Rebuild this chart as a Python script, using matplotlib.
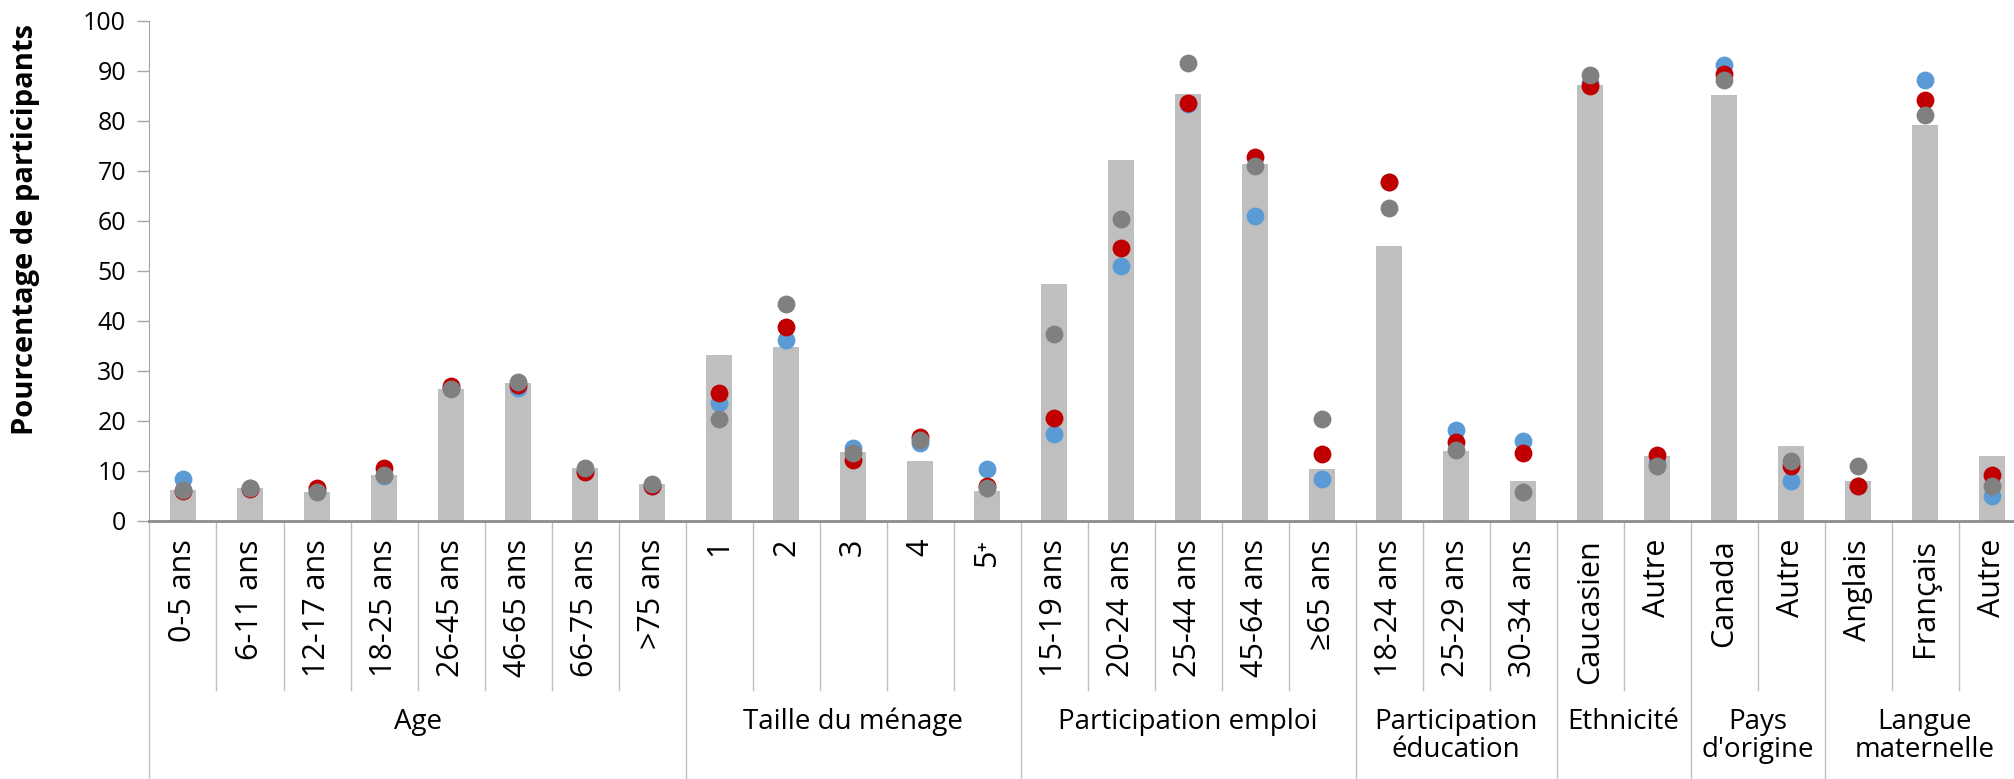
import matplotlib.pyplot as plt
from matplotlib.lines import Line2D

plt.rcParams['font.family'] = ['Open Sans', 'DejaVu Sans']

# categories, grouped
groups = ['Age', 'Taille du ménage', 'Participation emploi', 'Participation\néducation',
          'Ethnicité', 'Pays\nd\'origine', 'Langue\nmaternelle']
group_sizes = [8, 5, 5, 3, 2, 2, 3]
labels = ['0-5 ans', '6-11 ans', '12-17 ans', '18-25 ans', '26-45 ans', '46-65 ans', '66-75 ans', '>75 ans',
          '1', '2', '3', '4', '5\u207a',
          '15-19 ans', '20-24 ans', '25-44 ans', '45-64 ans', '\u226565 ans',
          '18-24 ans', '25-29 ans', '30-34 ans',
          'Caucasien', 'Autre',
          'Canada', 'Autre',
          'Anglais', 'Français', 'Autre']

bar_vals = [6.1, 6.5, 5.8, 9.2, 26.3, 27.6, 10.5, 7.4,
            33.2, 34.7, 13.8, 12.0, 5.9,
            47.3, 72.1, 85.3, 71.4, 10.3,
            55.0, 13.9, 7.9,
            87.1, 12.9,
            85.1, 14.9,
            7.9, 79.1, 12.9]
blue_vals = [8.4, 6.6, 6.0, 8.9, 26.5, 26.5, 10.0, 7.0,
             23.6, 36.2, 14.6, 15.5, 10.3,
             17.4, 50.9, 83.3, 60.9, 8.4,
             67.8, 18.1, 16.0,
             87.5, 11.5,
             91.2, 7.9,
             7.0, 88.1, 5.0]
red_vals = [5.9, 6.3, 6.5, 10.5, 26.9, 27.2, 9.8, 7.0,
            25.6, 38.7, 12.1, 16.7, 7.0,
            20.5, 54.6, 83.6, 72.8, 13.4,
            67.8, 15.8, 13.6,
            86.9, 13.1,
            89.3, 11.0,
            7.0, 84.1, 9.1]
gray_vals = [6.2, 6.6, 5.8, 9.2, 26.3, 27.7, 10.6, 7.4,
             20.3, 43.4, 13.6, 16.1, 6.5,
             37.3, 60.3, 91.6, 71.0, 20.3,
             62.5, 14.2, 5.8,
             89.1, 11.0,
             88.1, 12.0,
             11.0, 81.1, 7.0]

W, H = 2015, 779
fig = plt.figure(figsize=(W / 100, H / 100), dpi=100)
ax = fig.add_axes([149.5 / W, 1 - 520.7 / H, (2025.5 - 149.5) / W, 500 / H])

x = list(range(len(labels)))
ax.bar(x, bar_vals, width=0.39, color='#BFBFBF', zorder=1)
ms = 165
ax.scatter(x, blue_vals, s=ms, color='#5B9BD5', zorder=2, linewidths=0)
ax.scatter(x, red_vals, s=ms, color='#C00000', zorder=3, linewidths=0)
ax.scatter(x, gray_vals, s=ms, color='#808080', zorder=4, linewidths=0)

ax.set_xlim(-0.5, len(labels) - 0.5)
ax.set_ylim(0, 100)
ax.set_yticks(range(0, 101, 10))
ax.tick_params(axis='y', labelsize=18, length=9, width=1, color='#A6A6A6', pad=8)
ax.set_xticks([])
for s in ['top', 'right']:
    ax.spines[s].set_visible(False)
ax.spines['left'].set_color('#A6A6A6')
ax.spines['bottom'].set_color('#8C8C8C')
ax.spines['bottom'].set_linewidth(2)
ax.set_ylabel('Pourcentage de participants', fontsize=21, fontweight='bold', va='center')
ax.yaxis.set_label_coords(-0.066, 0.583)

trans = ax.get_xaxis_transform()
def fy(px):
    # pixel row -> axes fraction (y)
    return (520.7 - px) / 500

for i, lab in enumerate(labels):
    ax.text(i, fy(539), lab, rotation=90, ha='center', va='top', fontsize=22,
            transform=trans, clip_on=False)

bounds = [0]
for n in group_sizes:
    bounds.append(bounds[-1] + n)
for i in range(len(labels)):
    xb = i - 0.5
    y1 = fy(779) if i in bounds else fy(690)
    ax.add_line(Line2D([xb, xb], [0, y1], color='#BFBFBF', lw=1, transform=trans, clip_on=False))

for g, a, b in zip(groups, bounds[:-1], bounds[1:]):
    ax.text((a + b - 1) / 2, fy(708), g, ha='center', va='top', fontsize=20,
            linespacing=1.0, transform=trans, clip_on=False)

fig.savefig('out.png', dpi=100)
